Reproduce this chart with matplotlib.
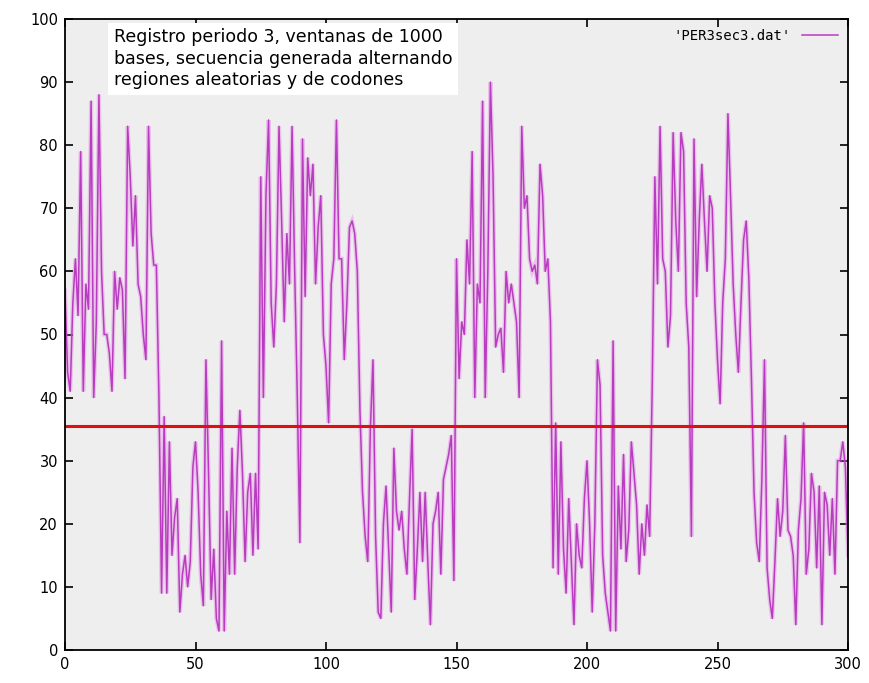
import numpy as np
import matplotlib
matplotlib.use('Agg')
import matplotlib.pyplot as plt

# registro periodo 3 (ventanas de 1000 bases), valores por ventana
per3 = [
    57, 44, 41, 55, 62, 53, 79, 41, 58, 54,
    87, 40, 52, 88, 60, 50, 50, 47, 41, 60,
    54, 59, 57, 43, 83, 75, 64, 72, 58, 56,
    50, 46, 83, 66, 61, 61, 40, 9, 37, 9,
    33, 15, 21, 24, 6, 12, 15, 10, 14, 29,
    33, 25, 12, 7, 46, 28, 8, 16, 5, 3,
    49, 3, 22, 12, 32, 12, 29, 38, 28, 14,
    25, 28, 15, 28, 16, 75, 40, 72, 84, 55,
    48, 58, 83, 68, 52, 66, 58, 83, 60, 40,
    17, 81, 56, 78, 72, 77, 58, 67, 72, 50,
    45, 36, 58, 62, 84, 62, 62, 46, 55, 67,
    68, 66, 60, 38, 25, 18, 14, 35, 46, 18,
    6, 5, 20, 26, 16, 6, 32, 22, 19, 22,
    16, 12, 24, 35, 8, 16, 25, 14, 25, 14,
    4, 20, 22, 25, 12, 27, 29, 31, 34, 11,
    62, 43, 52, 50, 65, 58, 79, 40, 58, 55,
    87, 40, 60, 90, 75, 48, 50, 51, 44, 60,
    55, 58, 55, 52, 40, 83, 70, 72, 62, 60,
    61, 58, 77, 72, 60, 62, 52, 13, 36, 12,
    33, 16, 9, 24, 14, 4, 20, 15, 13, 24,
    30, 20, 6, 20, 46, 42, 15, 9, 6, 3,
    49, 3, 26, 16, 31, 14, 19, 33, 28, 23,
    12, 20, 15, 23, 18, 42, 75, 58, 83, 62,
    60, 48, 53, 82, 68, 60, 82, 79, 55, 48,
    18, 81, 56, 68, 77, 68, 60, 72, 70, 55,
    46, 39, 55, 62, 85, 72, 58, 50, 44, 55,
    65, 68, 59, 43, 25, 17, 14, 27, 46, 13,
    8, 5, 14, 24, 18, 22, 34, 19, 18, 15,
    4, 19, 24, 36, 12, 16, 28, 25, 13, 26,
    4, 25, 23, 15, 24, 12, 30, 30, 33, 29,
    15,
]
umbral = 35.5
texto = ("Registro periodo 3, ventanas de 1000\n"
         "bases, secuencia generada alternando\n"
         "regiones aleatorias y de codones")

x = np.arange(len(per3))

fig = plt.figure(figsize=(8.7, 6.83), dpi=100)
fig.patch.set_facecolor('white')
ax = fig.add_axes([65/870, 1 - 650/683, 783/870, 631/683])
ax.set_facecolor('#eeeeee')

ax.plot(x, per3, color='#e070e0', lw=3.0, alpha=0.35, solid_joinstyle='miter')
ax.plot(x, per3, color='#b83cc0', lw=1.1, label="'PER3sec3.dat'")
ax.axhline(umbral, color='#e01010', lw=2.2)

ax.set_xlim(0, 300)
ax.set_ylim(0, 100)
ax.set_xticks(np.arange(0, 301, 50))
ax.set_yticks(np.arange(0, 101, 10))
ax.tick_params(direction='in', length=6, width=1.2, top=True, right=True,
               labelsize=10.5, pad=5, colors='black')
for s in ax.spines.values():
    s.set_linewidth(1.3)

ax.text(0.062, 0.985, texto, transform=ax.transAxes, ha='left', va='top',
        fontsize=12.5, family='DejaVu Sans', linespacing=1.25,
        bbox=dict(facecolor='white', edgecolor='none', pad=4))

leg = ax.legend(loc='upper right', frameon=False, fontsize=10, handlelength=2.6,
                prop={'family': 'DejaVu Sans Mono', 'size': 10}, markerfirst=False,
                borderaxespad=0.3)

fig.savefig('out.png', dpi=100)
